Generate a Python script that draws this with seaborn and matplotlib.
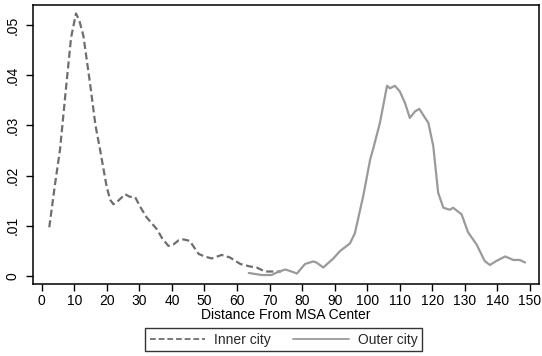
import matplotlib
matplotlib.use("Agg")
import matplotlib.pyplot as plt
import seaborn as sns
import pandas as pd

# Kernel density of establishment distance from MSA center
inner_dist = [2.3, 4.0, 5.6, 7.6, 9.0, 10.5, 11.5, 12.8, 14.8, 16.5, 17.9, 19.9,
              21.0, 22.0, 23.5, 25.6, 27.0, 28.7, 30.5, 32.2, 35.4, 37.0, 38.9,
              40.5, 42.0, 43.5, 45.5, 46.5, 48.2, 50.0, 52.2, 55.3, 57.8, 61.0,
              64.0, 66.0, 68.6, 72.2, 73.5]
inner_dens = [0.0097, 0.0180, 0.0252, 0.0385, 0.0475, 0.0523, 0.0510, 0.0478,
              0.0385, 0.0300, 0.0252, 0.0179, 0.0152, 0.0143, 0.0150, 0.0163,
              0.0158, 0.0157, 0.0135, 0.0117, 0.0093, 0.0075, 0.0060, 0.0063,
              0.0071, 0.0073, 0.0070, 0.0060, 0.0044, 0.0039, 0.0035, 0.0042,
              0.0037, 0.0024, 0.0019, 0.0017, 0.0009, 0.0009, 0.0009]

outer_dist = [63.6, 67.6, 70.6, 72.2, 74.8, 76.3, 78.4, 80.9, 83.4, 84.4, 86.5,
              89.6, 91.7, 94.7, 96.2, 98.8, 100.9, 101.9, 103.9, 106.1, 107.0,
              108.5, 110.0, 111.6, 113.1, 114.7, 116.0, 118.8, 120.3, 121.8,
              123.4, 125.4, 126.4, 129.0, 131.0, 133.6, 136.1, 137.7, 139.7,
              142.4, 144.9, 146.9, 148.5]
outer_dens = [0.0006, 0.0002, 0.0002, 0.0007, 0.0013, 0.0010, 0.0005, 0.0024,
              0.0029, 0.0027, 0.0017, 0.0035, 0.0050, 0.0065, 0.0085, 0.0160,
              0.0232, 0.0255, 0.0305, 0.0379, 0.0374, 0.0379, 0.0368, 0.0345,
              0.0315, 0.0328, 0.0333, 0.0305, 0.0259, 0.0166, 0.0136, 0.0132,
              0.0136, 0.0123, 0.0087, 0.0063, 0.0030, 0.0022, 0.0030, 0.0039,
              0.0032, 0.0032, 0.0027]

series_names = ["Inner city", "Outer city"]
x_ticks = list(range(0, 151, 10))
y_ticks = [0, 0.01, 0.02, 0.03, 0.04, 0.05]
y_tick_labels = ["0", ".01", ".02", ".03", ".04", ".05"]

df = pd.concat([
    pd.DataFrame({"dist": inner_dist, "dens": inner_dens, "group": series_names[0]}),
    pd.DataFrame({"dist": outer_dist, "dens": outer_dens, "group": series_names[1]}),
])

sns.set_theme(style="white")
plt.rcParams["font.family"] = ["Liberation Sans", "DejaVu Sans"]

fig = plt.figure(figsize=(5.42, 3.56), dpi=100)
ax = fig.add_axes([0.0615, 0.2014, 0.933, 0.7846])

sns.lineplot(data=df, x="dist", y="dens", hue="group", style="group",
             palette={"Inner city": "#6e6e6e", "Outer city": "#9a9a9a"},
             dashes={"Inner city": (3.2, 1.6), "Outer city": ""},
             linewidth=1.6, ax=ax, legend=False, sort=False, estimator=None)

ax.set_xlim(-2.6, 152.8)
ax.set_ylim(-0.00165, 0.054)
ax.set_xticks(x_ticks)
ax.set_yticks(y_ticks)
ax.set_yticklabels(y_tick_labels, rotation=90, va="center")
ax.tick_params(axis="both", which="major", labelsize=10, length=5, width=1,
               color="black", labelcolor="black", direction="out")
ax.tick_params(axis="x", pad=2, bottom=True)
ax.tick_params(axis="y", pad=5, left=True)
ax.set_xlabel("Distance From MSA Center", fontsize=10, labelpad=0, color="black")
ax.set_ylabel("")
for s in ax.spines.values():
    s.set_visible(True)
    s.set_color("black")
    s.set_linewidth(1.1)

from matplotlib.lines import Line2D
handles = [Line2D([], [], color="#6e6e6e", linestyle=(0, (3.2, 1.6)), linewidth=1.3),
           Line2D([], [], color="#9a9a9a", linestyle="-", linewidth=1.3)]
leg = fig.legend(handles, series_names, loc="center", bbox_to_anchor=(0.523, 0.0463),
                 ncol=2, fontsize=10, frameon=True, fancybox=False, shadow=False,
                 handlelength=4.0, handletextpad=0.65, columnspacing=1.6,
                 borderpad=0.35)
leg.get_frame().set_edgecolor("black")
leg.get_frame().set_linewidth(1.0)
leg.get_frame().set_facecolor("white")

fig.savefig("out.png", dpi=100, facecolor="white")
